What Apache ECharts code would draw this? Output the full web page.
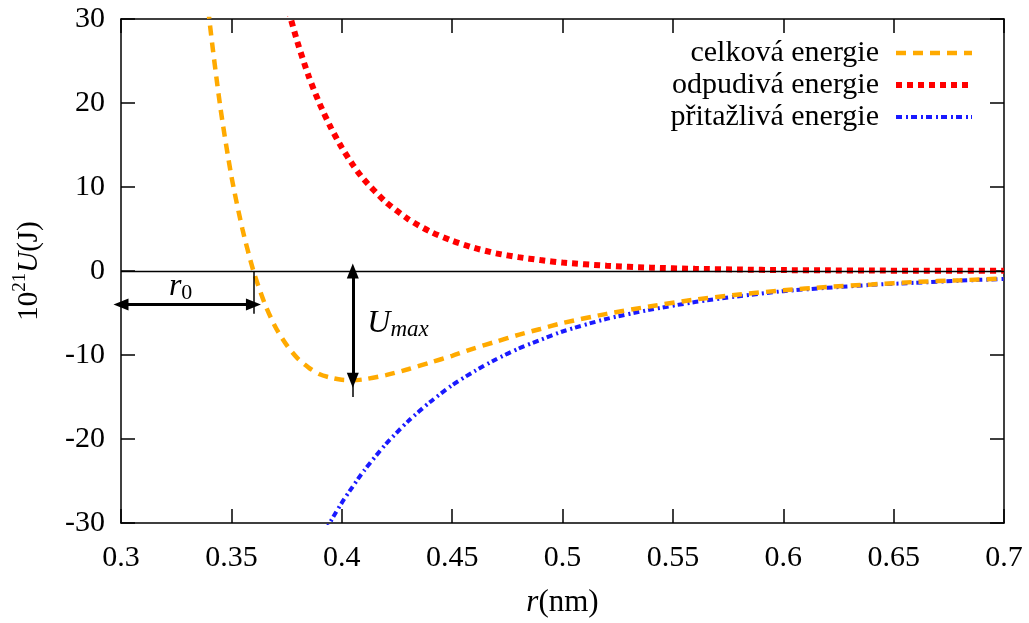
<!DOCTYPE html>
<html>
<head>
<meta charset="utf-8">
<script src="https://cdn.jsdelivr.net/npm/echarts@6/dist/echarts.min.js"></script>
<style>
  html, body { margin: 0; padding: 0; background: #fff; }
  #chart { width: 1029px; height: 623px; }
</style>
</head>
<body>
<div id="chart"></div>
<script>
// r in nm, energies in 10^-21 J
var rValues = [0.335, 0.34, 0.345, 0.35, 0.355, 0.36, 0.365, 0.37, 0.375, 0.38, 0.385, 0.39, 0.395,
    0.40, 0.405, 0.41, 0.42, 0.43, 0.44, 0.45, 0.46, 0.47, 0.48, 0.49, 0.50, 0.52, 0.54, 0.56,
    0.58, 0.60, 0.62, 0.64, 0.66, 0.68, 0.70];
var totalEnergy = [43.3, 30.0, 19.5, 11.3, 5.0, 0, -3.8, -6.7, -8.8, -10.4, -11.5, -12.3, -12.7,
    -12.95, -13.0, -12.9, -12.4, -11.7, -10.9, -10.1, -9.2, -8.4, -7.6, -6.9, -6.2, -5.1, -4.2, -3.4,
    -2.8, -2.3, -1.9, -1.6, -1.3, -1.1, -0.9];
var repulsiveEnergy = [123.3, 103.3, 86.7, 72.9, 61.5, 52.0, 44.1, 37.4, 31.9, 27.2, 23.2, 19.9, 17.1,
    14.7, 12.65, 10.9, 8.2, 6.2, 4.7, 3.6, 2.75, 2.1, 1.65, 1.3, 1.0, 0.63, 0.4, 0.26,
    0.17, 0.11, 0.08, 0.05, 0.04, 0.03, 0.02];
var attractiveEnergy = [-80.1, -73.3, -67.1, -61.6, -56.6, -52.0, -47.9, -44.1, -40.7, -37.6, -34.8, -32.2, -29.8,
    -27.6, -25.65, -23.8, -20.6, -17.9, -15.6, -13.6, -11.95, -10.5, -9.25, -8.2, -7.2, -5.7, -4.6, -3.7,
    -3.0, -2.4, -2.0, -1.65, -1.4, -1.15, -0.95];
var seriesNames = ['celková energie', 'odpudivá energie', 'přitažlivá energie'];

// annotation values
var r0 = 0.36;
var rMin = 0.405;
var uMin = -13;

function pairs(ys) {
    return rValues.map(function (r, i) { return [r, ys[i]]; });
}

var serif = 'Liberation Serif';
var colors = ['#ffaa00', '#ff0000', '#1a1aff'];
var widths = [4.5, 6, 4];
var dashes = [[10, 7], [6, 5], [6, 4, 2, 3]];

var chart = echarts.init(document.getElementById('chart'));

var axisCommon = {
    axisLine: { show: true, onZero: false, lineStyle: { color: '#000', width: 1.5 } },
    axisTick: { show: true, inside: true, length: 14, lineStyle: { color: '#000', width: 1.5 } },
    splitLine: { show: false }
};

option = {
    backgroundColor: '#fff',
    animation: false,
    grid: { left: 121, right: 25, top: 19, bottom: 98 },
    legend: {
        data: seriesNames.map(function (n, i) {
            return { name: n, lineStyle: { color: colors[i], width: widths[i], type: dashes[i] } };
        }),
        orient: 'vertical',
        right: 49,
        top: 32,
        align: 'right',
        itemWidth: 76,
        itemHeight: 14,
        itemGap: 0,
        itemStyle: { opacity: 0 },
        textStyle: { fontFamily: serif, fontSize: 30, color: '#000', lineHeight: 32, padding: [0, 12, 0, 0] }
    },
    xAxis: [
        Object.assign({
            type: 'value', min: 0.3, max: 0.7, interval: 0.05, position: 'bottom',
            name: '{i|r}{n|(nm)}', nameLocation: 'middle', nameGap: 64,
            nameTextStyle: { rich: {
                i: { fontFamily: serif, fontStyle: 'italic', fontSize: 31, color: '#000' },
                n: { fontFamily: serif, fontSize: 31, color: '#000' }
            } },
            axisLabel: { fontFamily: serif, fontSize: 30, color: '#000', margin: 20 }
        }, axisCommon),
        Object.assign({
            type: 'value', min: 0.3, max: 0.7, interval: 0.05, position: 'top',
            axisLabel: { show: false }
        }, axisCommon)
    ],
    yAxis: [
        Object.assign({
            type: 'value', min: -30, max: 30, interval: 10, position: 'left',
            name: '{n|10}{s|21}{i|U}{n|(J)}', nameLocation: 'middle', nameGap: 74, nameRotate: 90,
            nameTextStyle: { rich: {
                n: { fontFamily: serif, fontSize: 29, color: '#000', lineHeight: 36 },
                s: { fontFamily: serif, fontSize: 19, color: '#000', lineHeight: 16, verticalAlign: 'top' },
                i: { fontFamily: serif, fontStyle: 'italic', fontSize: 29, color: '#000', lineHeight: 36 }
            } },
            axisLabel: { fontFamily: serif, fontSize: 30, color: '#000', margin: 16 }
        }, axisCommon),
        Object.assign({
            type: 'value', min: -30, max: 30, interval: 10, position: 'right',
            axisLabel: { show: false }
        }, axisCommon)
    ],
    series: [
        {
            name: seriesNames[0],
            type: 'line',
            data: pairs(totalEnergy),
            symbol: 'none',
            smooth: 0.25,
            z: 4,
            lineStyle: { color: colors[0], width: widths[0], type: dashes[0] },
            itemStyle: { color: colors[0] },
            markLine: {
                silent: true,
                symbol: ['none', 'none'],
                label: { show: false },
                data: [
                    [{ coord: [0.3, 0], lineStyle: { color: '#000', width: 1.3, type: 'solid' } },
                     { coord: [0.7, 0] }],
                    [{ coord: [r0, 0], lineStyle: { color: '#000', width: 1.5, type: 'solid' } },
                     { coord: [r0, -5.1] }],
                    [{ coord: [rMin, uMin], lineStyle: { color: '#000', width: 1.5, type: 'solid' } },
                     { coord: [rMin, -15] }]
                ]
            }
        },
        {
            name: seriesNames[1],
            type: 'line',
            data: pairs(repulsiveEnergy),
            symbol: 'none',
            smooth: 0.25,
            z: 3,
            lineStyle: { color: colors[1], width: widths[1], type: dashes[1] },
            itemStyle: { color: colors[1] }
        },
        {
            name: seriesNames[2],
            type: 'line',
            data: pairs(attractiveEnergy),
            symbol: 'none',
            smooth: 0.25,
            z: 3,
            lineStyle: { color: colors[2], width: widths[2], type: dashes[2] },
            itemStyle: { color: colors[2] },
            markLine: {
                silent: true,
                symbol: ['triangle', 'triangle'],
                symbolSize: [12, 15],
                label: { show: false },
                lineStyle: { color: '#000', width: 3, type: 'solid' },
                itemStyle: { color: '#000' },
                data: [
                    [{ coord: [0.3, -4] }, { coord: [r0, -4] }],
                    [{ coord: [rMin, 0] }, { coord: [rMin, uMin] }]
                ]
            },
            markPoint: {
                silent: true,
                symbol: 'circle',
                symbolSize: 0,
                label: {
                    show: true, position: 'inside', color: '#000',
                    rich: {
                        i: { fontFamily: serif, fontStyle: 'italic', fontSize: 32, color: '#000', lineHeight: 36 },
                        sub: { fontFamily: serif, fontSize: 22, color: '#000', lineHeight: 14, verticalAlign: 'bottom' },
                        subi: { fontFamily: serif, fontStyle: 'italic', fontSize: 23, color: '#000', lineHeight: 14, verticalAlign: 'bottom' }
                    }
                },
                data: [
                    { coord: [0.327, -1.8], label: { formatter: '{i|r}{sub|0}' } },
                    { coord: [0.4255, -6.3], label: { formatter: '{i|U}{subi|max}' } }
                ]
            }
        }
    ]
};

chart.setOption(option);

window.addEventListener('resize', function () {
    chart.resize();
});
</script>
</body>
</html>
